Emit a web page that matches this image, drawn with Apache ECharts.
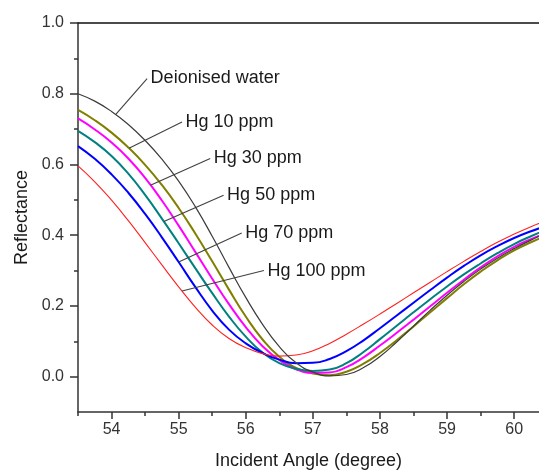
<!DOCTYPE html>
<html>
<head>
<meta charset="utf-8">
<script src="https://cdn.jsdelivr.net/npm/echarts@6/dist/echarts.min.js"></script>
<style>
html,body{margin:0;padding:0;background:#fff;}
#chart{width:539px;height:470px;}
</style>
</head>
<body>
<div id="chart"></div>
<script>
// ---- data ----
const angles = [53.5, 53.75, 54, 54.25, 54.5, 54.75, 55, 55.25, 55.5, 55.75, 56, 56.25, 56.5, 56.75, 57, 57.25, 57.5, 57.75, 58, 58.25, 58.5, 58.75, 59, 59.25, 59.5, 59.75, 60, 60.25, 60.5];
const water  = [0.800, 0.779, 0.750, 0.713, 0.668, 0.615, 0.553, 0.480, 0.397, 0.309, 0.224, 0.148, 0.085, 0.039, 0.013, 0.002, 0.006, 0.025, 0.057, 0.098, 0.143, 0.188, 0.230, 0.269, 0.304, 0.335, 0.362, 0.386, 0.407];
const hg10   = [0.754, 0.725, 0.690, 0.648, 0.599, 0.542, 0.477, 0.404, 0.326, 0.246, 0.170, 0.105, 0.056, 0.025, 0.009, 0.004, 0.014, 0.036, 0.067, 0.103, 0.142, 0.182, 0.222, 0.261, 0.297, 0.329, 0.357, 0.380, 0.400];
const hg30   = [0.730, 0.699, 0.662, 0.617, 0.562, 0.498, 0.427, 0.352, 0.277, 0.205, 0.140, 0.086, 0.047, 0.021, 0.011, 0.012, 0.027, 0.054, 0.088, 0.124, 0.161, 0.199, 0.237, 0.274, 0.309, 0.340, 0.367, 0.389, 0.408];
const hg50   = [0.695, 0.663, 0.624, 0.574, 0.514, 0.447, 0.377, 0.306, 0.236, 0.170, 0.113, 0.068, 0.038, 0.022, 0.016, 0.020, 0.038, 0.069, 0.106, 0.144, 0.182, 0.219, 0.255, 0.289, 0.320, 0.349, 0.375, 0.397, 0.417];
const hg70   = [0.652, 0.616, 0.572, 0.520, 0.460, 0.394, 0.324, 0.253, 0.187, 0.133, 0.094, 0.067, 0.048, 0.038, 0.039, 0.050, 0.072, 0.102, 0.137, 0.173, 0.209, 0.245, 0.280, 0.313, 0.343, 0.369, 0.392, 0.411, 0.428];
const hg100  = [0.596, 0.551, 0.499, 0.441, 0.379, 0.316, 0.254, 0.196, 0.146, 0.108, 0.082, 0.065, 0.058, 0.061, 0.073, 0.094, 0.120, 0.148, 0.177, 0.207, 0.237, 0.267, 0.297, 0.326, 0.354, 0.380, 0.403, 0.424, 0.443];

const seriesNames = ['Deionised water', 'Hg 10 ppm', 'Hg 30 ppm', 'Hg 50 ppm', 'Hg 70 ppm', 'Hg 100 ppm'];
const seriesValues = [water, hg10, hg30, hg50, hg70, hg100];

// tick labels
const xMajorTicks = [54, 55, 56, 57, 58, 59, 60];
const xMinorTicks = [53.5, 54.5, 55.5, 56.5, 57.5, 58.5, 59.5];
const yMajorTicks = [0, 0.2, 0.4, 0.6, 0.8, 1.0];
const yMinorTicks = [0.1, 0.3, 0.5, 0.7, 0.9];

// annotation leader lines: angle where each leader touches its curve, and label anchor (data units)
const leaderTouchAngles = [54.06, 54.26, 54.58, 54.78, 55.0, 55.05];
const leaderLabelPts = [[54.53, 0.843], [55.05, 0.720], [55.47, 0.617], [55.67, 0.513], [55.94, 0.406], [56.27, 0.300]];

// ---- styles ----
const colors = ['#3c3c3c', '#808000', '#ff00ff', '#008080', '#0000ff', '#ff2020'];
const widths = [1.2, 2, 2, 2, 2, 1.1];
const FONT = '"Liberation Sans", Arial, sans-serif';
const axisColor = '#333333';

// value on a series at angle a (linear between its own samples) — for leader anchor only
function valueAt(vals, a) {
  for (let k = 0; k < angles.length - 1; k++) {
    if (a >= angles[k] && a <= angles[k + 1]) {
      const t = (a - angles[k]) / (angles[k + 1] - angles[k]);
      return vals[k] + t * (vals[k + 1] - vals[k]);
    }
  }
  return vals[vals.length - 1];
}

const chart = echarts.init(document.getElementById('chart'), null, {renderer: 'canvas'});

const series = seriesNames.map((name, i) => ({
  name: name,
  type: 'line',
  xAxisIndex: 0,
  yAxisIndex: 0,
  data: angles.map((a, k) => [a, seriesValues[i][k]]),
  showSymbol: false,
  smooth: 0.5,
  lineStyle: {color: colors[i], width: widths[i]},
  itemStyle: {color: colors[i]},
  z: i === 0 ? 8 : 3 + i * 0.1,
  animation: false,
  markLine: {
    silent: true,
    symbol: ['none', 'none'],
    animation: false,
    label: {show: false},
    lineStyle: {color: '#404040', width: 1.1, type: 'solid'},
    data: [[{coord: [leaderTouchAngles[i], valueAt(seriesValues[i], leaderTouchAngles[i])]}, {coord: leaderLabelPts[i]}]]
  },
  markPoint: {
    silent: true,
    animation: false,
    symbol: 'circle',
    symbolSize: 1,
    itemStyle: {color: 'rgba(0,0,0,0)'},
    label: {
      show: true,
      position: 'right',
      distance: 3,
      formatter: name,
      color: '#1a1a1a',
      fontSize: 18,
      fontFamily: FONT
    },
    data: [{coord: leaderLabelPts[i]}]
  }
}));

const xBase = {type: 'value', min: 53.5, max: 60.37, gridIndex: 0, splitLine: {show: false}};
const yBase = {type: 'value', min: -0.1, max: 1.0, gridIndex: 0, splitLine: {show: false}};

chart.setOption({
  animation: false,
  backgroundColor: '#ffffff',
  grid: {left: 78, right: 0, top: 23, bottom: 58, containLabel: false, outerBoundsMode: 'none'},
  xAxis: [
    Object.assign({}, xBase, {
      position: 'bottom',
      name: 'Incident Angle (degree)',
      nameLocation: 'middle',
      nameGap: 40,
      nameTextStyle: {fontSize: 18, color: '#1a1a1a', fontFamily: FONT},
      axisLine: {show: true, onZero: false, lineStyle: {color: axisColor, width: 1.5}},
      axisTick: {show: true, customValues: xMajorTicks, length: 7, lineStyle: {color: axisColor, width: 1.5}},
      axisLabel: {show: true, customValues: xMajorTicks, fontSize: 16, color: '#333', fontFamily: FONT, margin: 10}
    }),
    Object.assign({}, xBase, {
      position: 'bottom',
      axisLine: {show: false, onZero: false},
      axisTick: {show: true, customValues: xMinorTicks, length: 4, lineStyle: {color: axisColor, width: 1.5}},
      axisLabel: {show: false}
    }),
    Object.assign({}, xBase, {
      position: 'top',
      axisLine: {show: true, onZero: false, lineStyle: {color: '#111', width: 1.5}},
      axisTick: {show: false},
      axisLabel: {show: false}
    })
  ],
  yAxis: [
    Object.assign({}, yBase, {
      position: 'left',
      name: 'Reflectance',
      nameLocation: 'middle',
      nameGap: 47,
      nameTextStyle: {fontSize: 18, color: '#1a1a1a', fontFamily: FONT},
      axisLine: {show: true, onZero: false, lineStyle: {color: axisColor, width: 1.5}},
      axisTick: {show: true, customValues: yMajorTicks, length: 8, lineStyle: {color: axisColor, width: 1.5}},
      axisLabel: {show: true, customValues: yMajorTicks, fontSize: 16, color: '#333', fontFamily: FONT, margin: 14,
        formatter: v => Number(v).toFixed(1)}
    }),
    Object.assign({}, yBase, {
      position: 'left',
      axisLine: {show: false, onZero: false},
      axisTick: {show: true, customValues: yMinorTicks, length: 4, lineStyle: {color: axisColor, width: 1.5}},
      axisLabel: {show: false}
    })
  ],
  series: series
});
</script>
</body>
</html>
